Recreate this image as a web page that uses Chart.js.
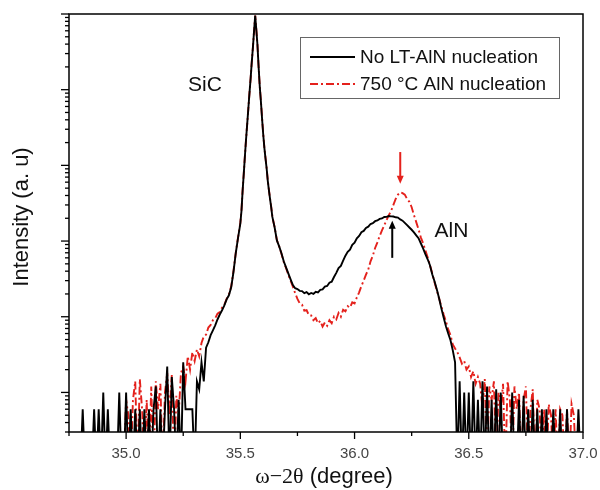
<!DOCTYPE html>
<html lang="en">
<head>
    <meta charset="UTF-8">
    <title>XRD omega-2theta scan</title>
    <script src="https://cdn.jsdelivr.net/npm/chart.js"></script>
    <style>
        body { margin: 0; background: #fff; }
        canvas { display: block; }
    </style>
</head>
<body>
    <canvas id="xrd" width="600" height="490"></canvas>
    <script>
        // omega-2theta positions (degree)
        const angle = [
            34.75, 34.76, 34.77, 34.78, 34.79, 34.80, 34.81, 34.82, 34.83, 34.84,
            34.85, 34.86, 34.87, 34.88, 34.89, 34.90, 34.91, 34.92, 34.93, 34.94,
            34.95, 34.96, 34.97, 34.98, 34.99, 35.00, 35.01, 35.02, 35.03, 35.04,
            35.05, 35.06, 35.07, 35.08, 35.09, 35.10, 35.11, 35.12, 35.13, 35.14,
            35.15, 35.16, 35.17, 35.18, 35.19, 35.20, 35.21, 35.22, 35.23, 35.24,
            35.25, 35.26, 35.27, 35.28, 35.29, 35.30, 35.31, 35.32, 35.33, 35.34,
            35.35, 35.36, 35.37, 35.38, 35.39, 35.40, 35.41, 35.42, 35.43, 35.44,
            35.45, 35.46, 35.47, 35.48, 35.49,
            35.500, 35.505, 35.510, 35.515, 35.520, 35.525, 35.530, 35.535, 35.540, 35.545,
            35.550, 35.555, 35.560, 35.565, 35.570, 35.575, 35.580, 35.585, 35.590, 35.595,
            35.600, 35.605, 35.610, 35.615, 35.620, 35.625, 35.630, 35.635, 35.640, 35.645,
            35.650,
            35.66, 35.67, 35.68, 35.69,
            35.70, 35.71, 35.72, 35.73, 35.74, 35.75, 35.76, 35.77, 35.78, 35.79,
            35.80, 35.81, 35.82, 35.83, 35.84, 35.85, 35.86, 35.87, 35.88, 35.89,
            35.90, 35.91, 35.92, 35.93, 35.94, 35.95, 35.96, 35.97, 35.98, 35.99,
            36.00, 36.01, 36.02, 36.03, 36.04, 36.05, 36.06, 36.07, 36.08, 36.09,
            36.10, 36.11, 36.12, 36.13, 36.14, 36.15, 36.16, 36.17, 36.18, 36.19,
            36.20, 36.21, 36.22, 36.23, 36.24, 36.25, 36.26, 36.27, 36.28, 36.29,
            36.30, 36.31, 36.32, 36.33, 36.34, 36.35, 36.36, 36.37, 36.38, 36.39,
            36.40, 36.41, 36.42, 36.43, 36.44, 36.45, 36.46, 36.47, 36.48, 36.49,
            36.50, 36.51, 36.52, 36.53, 36.54, 36.55, 36.56, 36.57, 36.58, 36.59,
            36.60, 36.61, 36.62, 36.63, 36.64, 36.65, 36.66, 36.67, 36.68, 36.69,
            36.70, 36.71, 36.72, 36.73, 36.74, 36.75, 36.76, 36.77, 36.78, 36.79,
            36.80, 36.81, 36.82, 36.83, 36.84, 36.85, 36.86, 36.87, 36.88, 36.89,
            36.90, 36.91, 36.92, 36.93, 36.94, 36.95, 36.96, 36.97, 36.98, 36.99,
            37.00
        ];

        // counts, sample without LT-AlN nucleation layer
        const noLtAln = [
            1, 1, 1, 1, 1, 1, 6, 1, 1, 1,
            1, 6, 1, 6, 1, 10, 1, 6, 1, 1,
            1, 1, 10, 1, 1, 10, 1, 6, 1, 6,
            1, 6, 1, 6, 1, 6, 1, 6, 12, 1,
            6, 1, 6, 22, 1, 16, 6, 1, 8, 1,
            25, 6, 6, 6, 6, 1, 14, 11, 25, 14,
            39, 46, 57, 66, 77, 92, 107, 122, 141, 170,
            192, 245, 390, 690, 1100,
            1700, 2500, 4600, 7700, 13200, 22000, 35000, 56000, 90000, 140000,
            230000, 360000, 590000, 950000, 620000, 390000, 200000, 110000, 70000, 42000,
            26000, 17300, 12500, 9200, 6300, 4700, 3600, 2800, 2100, 1780,
            1520,
            1020, 850, 690, 540,
            450, 375, 312, 262, 238, 232, 220, 218, 205, 212,
            198, 206, 200, 214, 210, 226, 230, 250, 255, 282,
            290, 335, 380, 440, 470, 550, 640, 720, 770, 890,
            950, 1090, 1170, 1310, 1360, 1490, 1550, 1680, 1720, 1830,
            1870, 1960, 1990, 2080, 2090, 2140, 2120, 2110, 2060, 2040,
            1930, 1860, 1740, 1620, 1510, 1410, 1300, 1190, 1090, 935,
            800, 670, 575, 480, 364, 294, 230, 175, 129, 98,
            75, 60, 49, 36, 25, 1, 14, 1, 10, 1,
            10, 1, 14, 1, 8, 1, 14, 1, 12, 1,
            8, 1, 11, 1, 10, 1, 1, 1, 1, 10,
            1, 1, 8, 1, 9, 1, 6, 1, 8, 1,
            6, 1, 6, 1, 6, 1, 1, 6, 1, 1,
            6, 1, 1, 6, 1, 1, 1, 1, 6, 1,
            1
        ];

        // counts, sample with 750 C AlN nucleation layer
        const aln750 = [
            null, null, null, null, null, null, null, null, null, null,
            null, null, null, null, null, null, null, null, null, null,
            null, null, null, null, 1, 8, 5, 1, 8, 14,
            1, 15, 6, 1, 8, 1, 12, 1, 14, 6,
            13, 1, 10, 18, 5, 17, 1, 9, 5, 18,
            22, 14, 30, 20, 34, 26, 37, 30, 45, 55,
            58, 72, 78, 90, 95, 110, 115, 132, 144, 172,
            198, 250, 400, 700, 1120,
            1750, 2550, 4700, 7800, 13400, 22000, 35000, 56000, 90000, 140000,
            230000, 360000, 590000, 950000, 620000, 390000, 200000, 112000, 71000, 43000,
            26500, 17600, 12700, 9300, 6400, 4800, 3650, 2850, 2150, 1800,
            1530,
            1030, 850, 680, 530,
            440, 360, 300, 250, 205, 172, 150, 145, 120, 122,
            105, 104, 90, 96, 82, 88, 74, 84, 76, 90,
            82, 100, 92, 112, 100, 124, 118, 138, 132, 155,
            150, 180, 210, 255, 300, 360, 420, 540, 640, 810,
            960, 1170, 1380, 1610, 1890, 2200, 2500, 3000, 3600, 4100,
            4400, 4300, 4100, 3600, 3300, 2800, 2200, 1780, 1430, 1120,
            935, 755, 610, 480, 375, 285, 222, 175, 137, 107,
            87, 68, 57, 43, 38, 34, 29, 24, 26, 20,
            22, 16, 19, 13, 16, 13, 6, 15, 1, 12,
            8, 14, 1, 10, 6, 13, 1, 14, 8, 1,
            12, 6, 10, 1, 8, 12, 1, 6, 11, 1,
            8, 6, 1, 6, 1, 7, 5, 1, 6, 1,
            6, 5, 1, 6, 1, 7, 5, 1, null, null,
            null
        ];

        const seriesNames = ['No LT-AlN nucleation', '750 \u00B0C AlN nucleation'];
        const xTickLabels = ['35.0', '35.5', '36.0', '36.5', '37.0'];

        // peak labels and arrows, in data units
        const peakLabels = [
            { text: 'SiC', x: 35.345, y: 115000 },
            { text: 'AlN', x: 36.424, y: 1350 }
        ];
        const arrows = [
            { x: 36.165, from: 600, to: 1850, series: 0 },
            { x: 36.20, from: 15000, to: 5700, series: 1 }
        ];

        const RED = '#e4211c';
        const SANS = '"Liberation Sans", Arial, sans-serif';
        const SERIF = '"Liberation Serif", "Times New Roman", serif';

        function line(ctx, x1, y1, x2, y2) {
            ctx.beginPath();
            ctx.moveTo(x1, y1);
            ctx.lineTo(x2, y2);
            ctx.stroke();
        }

        const decorations = {
            id: 'decorations',
            afterDatasetsDraw(chart) {
                const ctx = chart.ctx;
                const area = chart.chartArea;
                const xs = chart.scales.x, ys = chart.scales.y;
                const colors = chart.data.datasets.map(d => d.borderColor);
                ctx.save();

                // frame
                ctx.strokeStyle = '#000';
                ctx.lineWidth = 1.5;
                ctx.strokeRect(area.left, area.top, area.right - area.left, area.bottom - area.top);

                // x ticks, outward
                ctx.lineWidth = 1.3;
                xs.ticks.forEach(t => {
                    const px = xs.getPixelForValue(t.value);
                    const major = Math.abs(t.value * 2 - Math.round(t.value * 2)) < 1e-6;
                    line(ctx, px, area.bottom, px, area.bottom + (major ? 7 : 4));
                });

                // y ticks (log), outward
                ys.ticks.forEach(t => {
                    const e = Math.floor(Math.log10(t.value) + 1e-9);
                    const m = t.value / Math.pow(10, e);
                    if (Math.abs(m - Math.round(m)) > 1e-6) return;
                    const major = Math.abs(m - 1) < 1e-6;
                    const py = ys.getPixelForValue(t.value);
                    line(ctx, area.left - (major ? 8 : 4), py, area.left, py);
                });

                // peak labels
                ctx.fillStyle = '#111';
                ctx.font = '21px ' + SANS;
                ctx.textAlign = 'center';
                ctx.textBaseline = 'middle';
                peakLabels.forEach(l => {
                    ctx.fillText(l.text, xs.getPixelForValue(l.x), ys.getPixelForValue(l.y));
                });

                // arrows
                arrows.forEach(a => {
                    const px = xs.getPixelForValue(a.x);
                    const y1 = ys.getPixelForValue(a.from);
                    const y2 = ys.getPixelForValue(a.to);
                    const dir = y2 < y1 ? -1 : 1;
                    ctx.strokeStyle = colors[a.series];
                    ctx.fillStyle = colors[a.series];
                    ctx.lineWidth = 2;
                    line(ctx, px, y1, px, y2 - dir * 6);
                    ctx.beginPath();
                    ctx.moveTo(px, y2);
                    ctx.lineTo(px - 3.5, y2 - dir * 8);
                    ctx.lineTo(px + 3.5, y2 - dir * 8);
                    ctx.closePath();
                    ctx.fill();
                });

                // legend
                ctx.fillStyle = '#fff';
                ctx.fillRect(300.5, 37.5, 259, 61);
                ctx.strokeStyle = '#666';
                ctx.lineWidth = 1;
                ctx.strokeRect(300.5, 37.5, 259, 61);
                ctx.textAlign = 'left';
                ctx.font = '19px ' + SANS;
                chart.data.datasets.forEach((ds, i) => {
                    const y = 57 + i * 27;
                    ctx.strokeStyle = ds.borderColor;
                    ctx.lineWidth = 2;
                    ctx.setLineDash(ds.borderDash || []);
                    line(ctx, 310, y, 355, y);
                    ctx.setLineDash([]);
                    ctx.fillStyle = '#111';
                    ctx.fillText(ds.label, 360, y + 1);
                });

                // axis titles
                ctx.fillStyle = '#111';
                ctx.save();
                ctx.translate(22, 217);
                ctx.rotate(-Math.PI / 2);
                ctx.textAlign = 'center';
                ctx.font = '22px ' + SANS;
                ctx.fillText('Intensity (a. u)', 0, 0);
                ctx.restore();

                const part1 = '\u03C9\u22122\u03B8', part2 = ' (degree)';
                ctx.font = '22px ' + SERIF;
                const w1 = ctx.measureText(part1).width;
                ctx.font = '22px ' + SANS;
                const w2 = ctx.measureText(part2).width;
                let x0 = 324 - (w1 + w2) / 2;
                ctx.textAlign = 'left';
                ctx.font = '22px ' + SERIF;
                ctx.fillText(part1, x0, 477);
                ctx.font = '22px ' + SANS;
                ctx.fillText(part2, x0 + w1, 477);

                ctx.restore();
            }
        };

        new Chart(document.getElementById('xrd').getContext('2d'), {
            type: 'line',
            data: {
                datasets: [
                    {
                        label: seriesNames[0],
                        data: angle.map((a, i) => ({ x: a, y: noLtAln[i] })),
                        borderColor: '#000',
                        borderWidth: 1.9,
                        pointRadius: 0,
                        tension: 0
                    },
                    {
                        label: seriesNames[1],
                        data: angle.map((a, i) => ({ x: a, y: aln750[i] })),
                        borderColor: RED,
                        borderWidth: 1.9,
                        borderDash: [8, 3, 2, 3],
                        pointRadius: 0,
                        tension: 0
                    }
                ]
            },
            options: {
                responsive: false,
                animation: false,
                devicePixelRatio: 1,
                layout: { padding: { left: 0, right: 17, top: 14, bottom: 0 } },
                plugins: {
                    legend: { display: false },
                    tooltip: { enabled: false }
                },
                scales: {
                    x: {
                        type: 'linear',
                        min: 34.75,
                        max: 37.0,
                        grid: { display: false, drawTicks: false },
                        border: { display: false },
                        ticks: {
                            stepSize: 0.25,
                            autoSkip: false,
                            maxRotation: 0,
                            padding: 13,
                            color: '#444',
                            font: { size: 15, family: SANS },
                            callback: v => {
                                const s = Number(v).toFixed(1);
                                return Math.abs(v * 2 - Math.round(v * 2)) < 1e-6 && xTickLabels.includes(s) ? s : '';
                            }
                        },
                        afterFit(scale) {
                            scale.height = 58;
                            scale.paddingLeft = 0;
                            scale.paddingRight = 0;
                        }
                    },
                    y: {
                        type: 'logarithmic',
                        min: 3,
                        max: 1e6,
                        grid: { display: false, drawTicks: false },
                        border: { display: false },
                        ticks: { display: false },
                        afterFit(scale) { scale.width = 69; }
                    }
                }
            },
            plugins: [decorations]
        });
    </script>
</body>
</html>
